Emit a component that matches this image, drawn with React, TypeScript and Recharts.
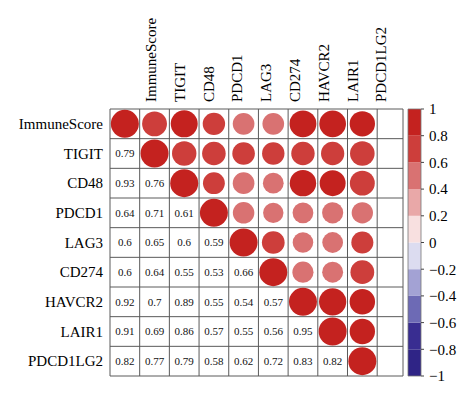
import { ScatterChart, Scatter, XAxis, YAxis, ReferenceLine, ReferenceArea } from 'recharts';

const LABELS = ['ImmuneScore', 'TIGIT', 'CD48', 'PDCD1', 'LAG3', 'CD274', 'HAVCR2', 'LAIR1', 'PDCD1LG2'];

// lower triangle, row i holds corr with columns 0..i-1
const LOWER: number[][] = [
  [],
  [0.79],
  [0.93, 0.76],
  [0.64, 0.71, 0.61],
  [0.6, 0.65, 0.6, 0.59],
  [0.6, 0.64, 0.55, 0.53, 0.66],
  [0.92, 0.7, 0.89, 0.55, 0.54, 0.57],
  [0.91, 0.69, 0.86, 0.57, 0.55, 0.56, 0.95],
  [0.82, 0.77, 0.79, 0.58, 0.62, 0.72, 0.83, 0.82],
];

// colour bands of the legend, low -> high
const BAND_LO = [-1, -0.8, -0.6, -0.4, -0.2, 0, 0.2, 0.4, 0.6, 0.8];
const BAND_HI = [-0.8, -0.6, -0.4, -0.2, 0, 0.2, 0.4, 0.6, 0.8, 1];
const BAND_COLORS = ['#2F2486', '#392D91', '#6D6AB5', '#A3A2D4', '#DCDCF0', '#F8E0E0', '#E9A8A8', '#D97272', '#CD3E3B', '#C4221F'];
const LEGEND_TICKS = [1, 0.8, 0.6, 0.4, 0.2, 0, -0.2, -0.4, -0.6, -0.8, -1];

// the grid has one extra narrow empty column at the right
const X_MAX = 9.87;
const TOP_TICKS = LABELS.map((_, i) => 1.55 + i * 0.97);
const ROW_TICKS = LABELS.map((_, i) => i + 0.5);

const FONT = '"Liberation Serif", "Times New Roman", serif';
const GRID = '#5a5a5a';

const corr = (i: number, j: number) => (i === j ? 1 : i > j ? LOWER[i][j] : LOWER[j][i]);
const bandColor = (v: number) => {
  const k = BAND_HI.findIndex((hi, idx) => v > BAND_LO[idx] && v <= hi);
  return BAND_COLORS[k < 0 ? 0 : k];
};

const circles: { x: number; y: number; v: number }[] = [];
const numbers: { x: number; y: number; v: number }[] = [];
LABELS.forEach((_, i) => {
  LABELS.forEach((__, j) => {
    const p = { x: j + 0.5, y: i + 0.5, v: corr(i, j) };
    if (j >= i) circles.push(p);
    else numbers.push(p);
  });
});

const TopTick = (props: any) => {
  const { x, y, payload } = props;
  const idx = TOP_TICKS.indexOf(payload.value);
  return (
    <text x={x} y={y} transform={`rotate(-90 ${x} ${y})`} textAnchor="start" fontSize={15} fontFamily={FONT} fill="#000">
      {LABELS[idx]}
    </text>
  );
};

const fmtLegend = (v: number) => (v < 0 ? '\u2212' + String(-v) : String(v));

export default function App() {
  return (
    <div style={{ position: 'absolute', left: 0, top: 0, width: 474, height: 398, background: '#fff' }}>
      <ScatterChart width={474} height={398} margin={{ top: 0, right: 71, bottom: 22, left: 0 }}>
        <XAxis
          type="number"
          dataKey="x"
          orientation="top"
          domain={[0, X_MAX]}
          allowDataOverflow
          ticks={TOP_TICKS}
          interval={0}
          height={109}
          tickSize={0}
          tickMargin={7}
          axisLine={false}
          tickLine={false}
          tick={<TopTick />}
        />
        <YAxis
          type="number"
          dataKey="y"
          domain={[0, 9]}
          reversed
          ticks={ROW_TICKS}
          interval={0}
          width={110}
          tickSize={0}
          tickMargin={7}
          axisLine={false}
          tickLine={false}
          tickFormatter={(v: number) => LABELS[Math.floor(v)]}
          tick={{ fontSize: 15, fontFamily: FONT, fill: '#000' }}
        />
        {[0, 1, 2, 3, 4, 5, 6, 7, 8, 9, X_MAX].map(k => (
          <ReferenceLine key={'vx' + k} x={k} stroke={GRID} strokeWidth={1} />
        ))}
        {[0, 1, 2, 3, 4, 5, 6, 7, 8, 9].map(k => (
          <ReferenceLine key={'hy' + k} y={k} stroke={GRID} strokeWidth={1} />
        ))}
        <Scatter
          data={circles}
          isAnimationActive={false}
          shape={(p: any) => (
            <circle cx={p.cx} cy={p.cy} r={14 * Math.sqrt(Math.abs(p.payload.v))} fill={bandColor(p.payload.v)} />
          )}
        />
        <Scatter
          data={numbers}
          isAnimationActive={false}
          shape={(p: any) => (
            <text x={p.cx} y={p.cy} dy="0.35em" textAnchor="middle" fontSize={11} fontFamily={FONT} fill="#111">
              {String(p.payload.v)}
            </text>
          )}
        />
      </ScatterChart>

      <div style={{ position: 'absolute', left: 400, top: 100 }}>
        <ScatterChart width={74} height={290} margin={{ top: 9, right: 0, bottom: 14, left: 8 }}>
          <XAxis type="number" dataKey="x" domain={[0, 1]} hide />
          <YAxis
            type="number"
            dataKey="y"
            orientation="right"
            domain={[-1, 1]}
            ticks={LEGEND_TICKS}
            interval={0}
            width={53}
            tickSize={3}
            tickMargin={5}
            axisLine={false}
            tickLine={{ stroke: '#444' }}
            tickFormatter={fmtLegend}
            tick={{ fontSize: 15, fontFamily: FONT, fill: '#000' }}
          />
          {BAND_COLORS.map((c, i) => (
            <ReferenceArea key={i} x1={0} x2={1} y1={BAND_LO[i]} y2={BAND_HI[i]} fill={c} fillOpacity={1} stroke="none" />
          ))}
          <ReferenceArea x1={0} x2={1} y1={-1} y2={1} fill="none" stroke="#777" strokeWidth={0.8} />
          <Scatter data={[{ x: 0.5, y: 0 }]} isAnimationActive={false} shape={() => <g />} />
        </ScatterChart>
      </div>
    </div>
  );
}
